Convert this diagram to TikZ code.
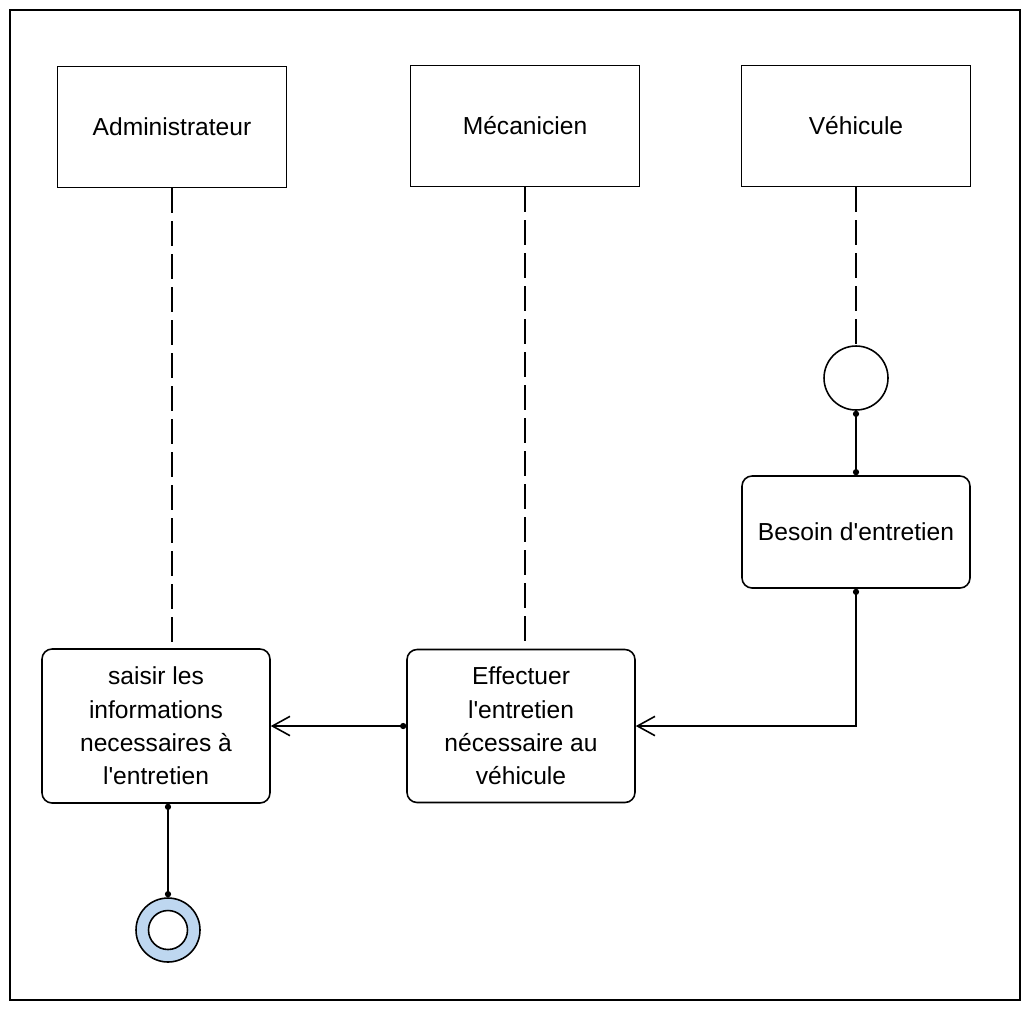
\documentclass[tikz,border=0pt]{standalone}
\usepackage{fontspec}
\setmainfont{Liberation Sans}
\usetikzlibrary{arrows.meta}
\definecolor{finblue}{RGB}{190,215,240}
\begin{document}
\begin{tikzpicture}[x=0.02cm, y=-0.02cm,
  actor/.style={draw, rectangle, line width=0.9pt, minimum width=4.58cm, minimum height=2.42cm, font=\fontsize{14}{19}\selectfont},
  activity/.style={draw, rectangle, rounded corners=0.2cm, line width=0.9pt, align=center, minimum width=4.56cm, font=\fontsize{14}{19}\selectfont},
  life/.style={line width=0.9pt, dash pattern=on 0.5cm off 0.16cm},
  flow/.style={line width=0.9pt, {Circle[length=3.5pt]}-{Straight Barb[length=10pt,width=11pt]}},
  link/.style={line width=0.9pt, {Circle[length=3.5pt]}-{Circle[length=3.5pt]}}
]
\useasboundingbox (0,0) rectangle (1033,1018);
\draw[line width=0.8pt] (10,10) rectangle (1020,1000);
\node[actor] (admin) at (172,127) {Administrateur};
\node[actor] (mec) at (525,126) {Mécanicien};
\node[actor] (veh) at (856,126) {Véhicule};
\node[draw, circle, line width=0.9pt, minimum size=1.28cm] (init) at (856,378) {};
\node[activity, minimum height=2.24cm] (besoin) at (856,532) {Besoin d\textquotesingle entretien};
\node[activity, minimum height=3.06cm] (effect) at (521,726) {Effectuer\\l\textquotesingle entretien\\nécessaire au\\véhicule};
\node[activity, minimum height=3.08cm] (saisir) at (156,726) {saisir les\\informations\\necessaires à\\l\textquotesingle entretien};
\node[draw, circle, line width=0.9pt, fill=finblue, minimum size=1.28cm] (fin) at (168,930) {};
\node[draw, circle, line width=0.9pt, fill=white, minimum size=0.78cm] (finin) at (fin) {};
\draw[life] (admin.south) -- (admin.south |- saisir.north);
\draw[life] (mec.south) -- (mec.south |- effect.north);
\draw[life] (veh.south) -- (init.north);
\draw[link] (init.south) -- (besoin.north);
\draw[flow] (besoin.south) |- (effect.east);
\draw[flow] (effect.west) -- (saisir.east);
\draw[link] (saisir.south -| fin) -- (fin.north);
\end{tikzpicture}
\end{document}
